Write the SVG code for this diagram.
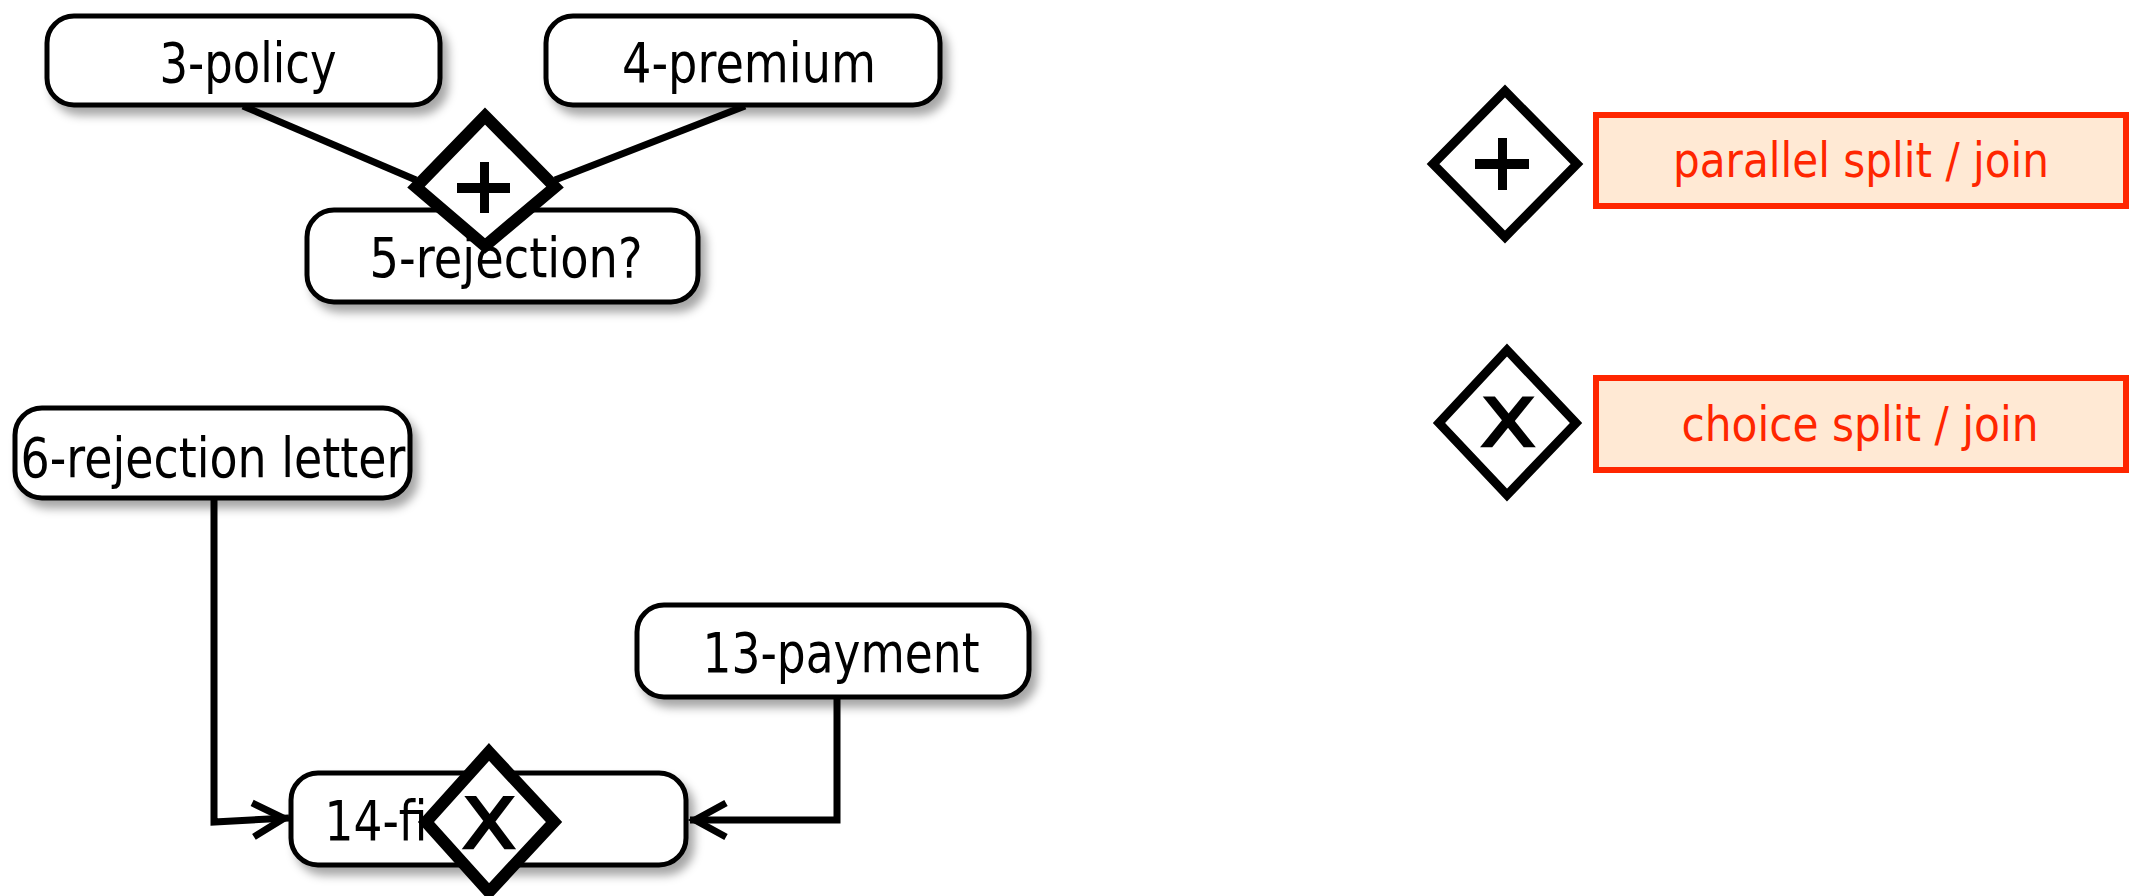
<svg xmlns="http://www.w3.org/2000/svg" width="2142" height="896" viewBox="0 0 2142 896">
  <style>
    .box { fill:#ffffff; stroke:#000000; stroke-width:5; filter:url(#sh); }
    .lbl { font-family:"DejaVu Sans","Verdana",sans-serif; font-size:55px; fill:#000000; text-anchor:middle; }
    .gw { fill:#ffffff; stroke:#000000; stroke-width:12; stroke-linejoin:miter; }
    .gwl { fill:#ffffff; stroke:#000000; stroke-width:9; stroke-linejoin:miter; }
    .xg { font-family:"DejaVu Sans","Liberation Sans",sans-serif; fill:#000000; stroke:#000000; stroke-width:2.5; text-anchor:middle; }
    .conn { fill:none; stroke:#000000; stroke-width:7; stroke-linejoin:miter; }
    .leg { fill:#ffe9d4; stroke:#ff2600; stroke-width:6; }
    .legt { font-family:"DejaVu Sans","Verdana",sans-serif; font-size:48px; fill:#ff2600; text-anchor:middle; }
  </style>
  <defs>
    <filter id="sh" x="-10%" y="-20%" width="130%" height="160%">
      <feDropShadow dx="6" dy="8" stdDeviation="5" flood-color="#000000" flood-opacity="0.35"/>
    </filter>
    <marker id="arr" markerUnits="userSpaceOnUse" viewBox="-40 -25 48 50" markerWidth="48" markerHeight="50" refX="5" refY="0" orient="auto" overflow="visible">
      <path d="M-31,-17 L0,0 L-31,17" fill="none" stroke="#000000" stroke-width="7"/>
    </marker>
    <clipPath id="clip6">
      <rect x="15" y="408" width="395" height="90" rx="27"/>
    </clipPath>
  </defs>

  <g id="connectors">
    <path class="conn" d="M243,106 L416,180"/>
    <path class="conn" d="M745,106 L555,180"/>
    <path class="conn" d="M214,499 L214,822 L289,818" marker-end="url(#arr)"/>
    <path class="conn" d="M837,697 L837,820 L690,820" marker-end="url(#arr)"/>
  </g>

  <g id="node-3-policy">
    <rect class="box" x="47" y="16" width="393" height="89" rx="27"/>
    <text class="lbl" x="248" y="82" textLength="177" lengthAdjust="spacingAndGlyphs">3-policy</text>
  </g>
  <g id="node-4-premium">
    <rect class="box" x="546" y="16" width="394" height="89" rx="27"/>
    <text class="lbl" x="749" y="82" textLength="254" lengthAdjust="spacingAndGlyphs">4-premium</text>
  </g>
  <g id="node-5-rejection">
    <rect class="box" x="307" y="210" width="391" height="92" rx="27"/>
    <text class="lbl" x="506" y="277" textLength="273" lengthAdjust="spacingAndGlyphs">5-rejection?</text>
  </g>
  <g id="node-6-rejection-letter">
    <rect class="box" x="15" y="408" width="395" height="90" rx="27"/>
    <text class="lbl" x="213" y="477" textLength="385" lengthAdjust="spacingAndGlyphs" clip-path="url(#clip6)">6-rejection letter</text>
  </g>
  <g id="node-13-payment">
    <rect class="box" x="637" y="605" width="392" height="92" rx="27"/>
    <text class="lbl" x="841" y="672" textLength="277" lengthAdjust="spacingAndGlyphs">13-payment</text>
  </g>
  <g id="node-14">
    <rect class="box" x="291" y="773" width="395" height="92" rx="27"/>
    <text class="lbl" x="376" y="840" textLength="103" lengthAdjust="spacingAndGlyphs">14-fi</text>
  </g>

  <g id="gateway-parallel">
    <polygon class="gw" points="485,116 555,187 485,246 416,187"/>
    <rect x="480" y="162" width="9" height="51" fill="#000000"/>
    <rect x="457" y="183" width="53" height="10" fill="#000000"/>
  </g>
  <g id="gateway-choice">
    <polygon class="gw" points="489,752 554,822 489,892 426,822"/>
    <text class="xg" x="489" y="848" font-size="70" textLength="54" lengthAdjust="spacingAndGlyphs">X</text>
  </g>

  <g id="legend-parallel">
    <polygon class="gwl" points="1505,91 1577,164 1505,237 1433,164"/>
    <rect x="1498" y="138" width="9" height="52" fill="#000000"/>
    <rect x="1475" y="159" width="54" height="10" fill="#000000"/>
  </g>
  <g id="legend-parallel-label">
    <rect class="leg" x="1596" y="115" width="530" height="91"/>
    <text class="legt" x="1861" y="177" textLength="376" lengthAdjust="spacingAndGlyphs">parallel split / join</text>
  </g>
  <g id="legend-choice">
    <polygon class="gwl" points="1507,350 1576,423 1507,495 1439,423"/>
    <text class="xg" x="1508" y="446" font-size="66" textLength="55" lengthAdjust="spacingAndGlyphs">X</text>
  </g>
  <g id="legend-choice-label">
    <rect class="leg" x="1596" y="378" width="530" height="92"/>
    <text class="legt" x="1860" y="441" textLength="357" lengthAdjust="spacingAndGlyphs">choice split / join</text>
  </g>
</svg>
